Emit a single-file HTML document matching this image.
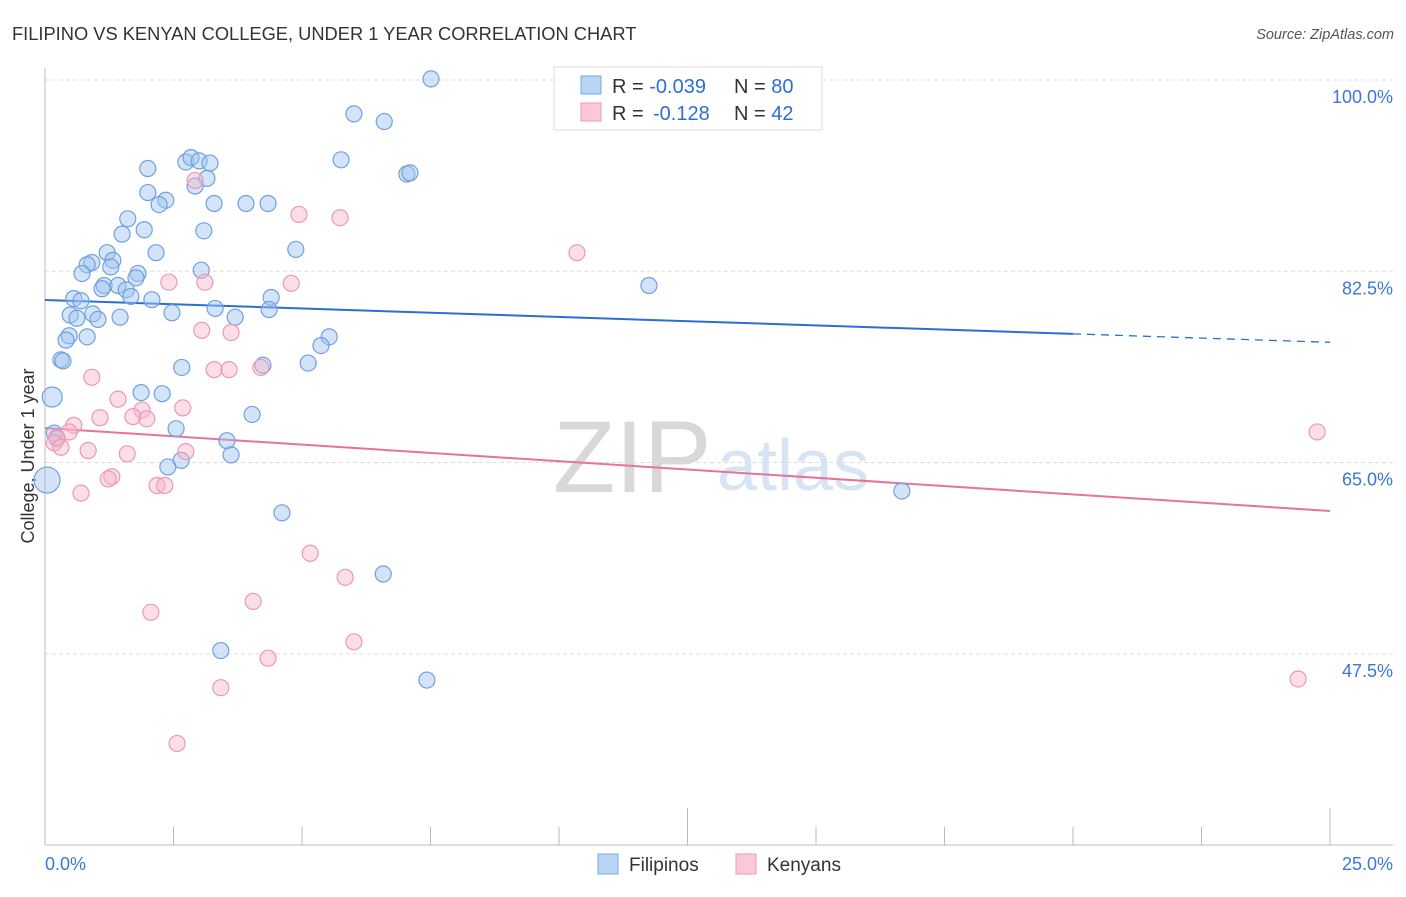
<!DOCTYPE html>
<html><head><meta charset="utf-8"><style>
body{margin:0;background:#fff;font-family:"Liberation Sans",sans-serif}
svg text{font-family:"Liberation Sans",sans-serif}
</style></head><body>
<svg id="c" width="1406" height="892">
<text x="12" y="40" font-size="18.3" fill="#333">FILIPINO VS KENYAN COLLEGE, UNDER 1 YEAR CORRELATION CHART</text>
<text x="1394" y="39" font-size="14.5" fill="#555" font-style="italic" text-anchor="end">Source: ZipAtlas.com</text>
<text x="553" y="492" font-size="102" fill="#d8d8d8" font-family="Liberation Serif">ZIP</text>
<text x="717" y="490" font-size="72" fill="#d6e4f3">atlas</text>
<text transform="translate(34,456) rotate(-90)" font-size="18" fill="#333" text-anchor="middle">College, Under 1 year</text>
<g id="grid"></g><g id="axes"></g><g id="trend"></g><g id="pts"></g>
<g>
<rect x="554" y="67" width="268" height="63" fill="#fff" stroke="#ddd"/>
<rect x="581" y="76" width="20" height="18" fill="#b8d4f5" stroke="#7aaae6"/>
<rect x="581" y="103" width="20" height="18" fill="#fbc8d8" stroke="#ee9ab5"/>
<text x="612" y="93" font-size="20" fill="#333">R = <tspan fill="#2d6fd6">-0.039</tspan><tspan x="734">N = </tspan><tspan fill="#2d6fd6">80</tspan></text>
<text x="612" y="120" font-size="20" fill="#333">R =  <tspan x="653" fill="#2d6fd6">-0.128</tspan><tspan x="734">N = </tspan><tspan fill="#2d6fd6"> 42</tspan></text>
</g>
<g>
<rect x="598" y="854" width="20" height="20" fill="#b8d4f5" stroke="#7aaae6"/>
<text x="629" y="871" font-size="19" fill="#333">Filipinos</text>
<rect x="736" y="854" width="20" height="20" fill="#fbc8d8" stroke="#ee9ab5"/>
<text x="767" y="871" font-size="19" fill="#333">Kenyans</text>
</g>
</svg>
<script>
const yTicks=[100,82.5,65,47.5];
const yTickLabels=["100.0%","82.5%","65.0%","47.5%"];
const xTickLabels=["0.0%","25.0%"];
const filX=[7.51,6.01,6.6,2,2.74,2.84,3,3.21,5.76,7.04,7.1,3.15,2.92,2,2.35,2.22,3.29,3.91,4.34,1.61,1.93,3.09,1.5,2.16,4.88,1.21,0.91,1.32,0.82,1.28,0.72,1.81,1.77,3.04,1.15,1.42,1.58,1.11,1.67,2.08,0.56,0.7,0.93,0.49,0.62,1.03,1.46,2.47,3.31,3.7,4.4,4.36,11.75,0.47,0.41,0.82,5.53,5.37,0.31,0.35,5.12,2.66,4.24,0.14,1.87,2.28,4.03,2.55,0.18,0.23,3.54,3.62,2.65,2.39,16.67,0.04,4.61,6.58,3.42,7.43];
const filY=[100.1,96.9,96.2,91.9,92.5,92.9,92.6,92.4,92.7,91.4,91.5,91.0,90.3,89.7,89.0,88.6,88.7,88.7,88.7,87.3,86.3,86.2,85.9,84.2,84.5,84.2,83.3,83.5,83.1,82.9,82.3,82.3,81.9,82.6,81.2,81.2,80.8,80.9,80.2,79.9,80.0,79.8,78.6,78.5,78.2,78.1,78.3,78.7,79.1,78.3,80.1,79.0,81.2,76.6,76.2,76.5,76.5,75.7,74.4,74.3,74.1,73.7,73.9,71.0,71.4,71.3,69.4,68.1,67.7,67.2,67.0,65.7,65.2,64.6,62.4,63.4,60.4,54.8,47.8,45.1];
const kenX=[2.92,4.94,5.74,10.35,2.41,3.11,4.79,3.05,3.62,0.91,3.29,3.58,4.2,1.42,1.89,2.68,1.71,1.98,1.07,0.56,0.47,0.23,0.18,0.31,0.84,1.6,2.74,1.3,1.23,0.7,2.18,2.33,24.75,5.16,5.84,2.06,4.05,6.01,4.34,3.42,24.38,2.57];
const kenY=[90.8,87.7,87.4,84.2,81.5,81.5,81.4,77.1,76.9,72.8,73.5,73.5,73.7,70.8,69.8,70.0,69.2,69.0,69.1,68.4,67.8,67.3,66.8,66.4,66.1,65.8,66.0,63.7,63.5,62.2,62.9,62.9,67.8,56.7,54.5,51.3,52.3,48.6,47.1,44.4,45.2,39.3];
const filTrend=[79.87,76.0];
const kenTrend=[68.16,60.57];
const X=v=>45+v*51.4, Y=v=>80+(100-v)*10.93;
const NS="http://www.w3.org/2000/svg";
function mk(tag,attrs,parent){const e=document.createElementNS(NS,tag);for(const k in attrs)e.setAttribute(k,attrs[k]);document.getElementById(parent).appendChild(e);return e;}
yTicks.forEach((t,i)=>{
 const l=mk('line',{x1:45,x2:1393,y1:Y(t),y2:Y(t),stroke:'#ddd','stroke-dasharray':'4,3'},'grid');
 
 
 const tx=mk('text',{x:1393,y:Y(t)+23,'font-size':18,fill:'#3a78d8','text-anchor':'end'},'grid');
 tx.textContent=yTickLabels[i];
 
 
});
const ax=mk('line',{x1:45,x2:1393,y1:845,y2:845,stroke:'#bbb'},'axes');


const ay=mk('line',{x1:45,x2:45,y1:68,y2:845,stroke:'#bbb'},'axes');


for(let i=1;i<=10;i++){const v=i*2.5;const big=(i==5||i==10);
 const t=mk('line',{x1:X(v),x2:X(v),y1:big?808:827,y2:845,stroke:'#bbb'},'axes');
 
 }
[[0,'start',45],[25,'end',1393]].forEach((a,i)=>{const t=mk('text',{x:a[2],y:870,'font-size':18,fill:'#3a78d8','text-anchor':a[1]},'axes');t.textContent=xTickLabels[i];
 
 });
function trend(tr,col,name,split){
 const f=v=>tr[0]+(tr[1]-tr[0])*v/25;
 const a=mk('line',{x1:X(0),y1:Y(f(0)),x2:X(split),y2:Y(f(split)),stroke:col,'stroke-width':2},'trend');
 
 
 if(split<25){const b=mk('line',{x1:X(split),y1:Y(f(split)),x2:X(25),y2:Y(f(25)),stroke:col,'stroke-width':1.3,'stroke-dasharray':'8,6'},'trend');
 
 }
}
trend(filTrend,'#2a6fd6','filipino-trend-line',20);
trend(kenTrend,'#e8729a','kenyan-trend-line',25);
function pts(xs,ys,fill,stroke,name,big){xs.forEach((x,i)=>{
 const r=big?(x<0.1?13:(x<0.16?10:8)):8;
 const c=mk('circle',{cx:X(x),cy:Y(ys[i]),r:r,fill:fill,stroke:stroke,'stroke-width':1.2},'pts');
 
 });}
pts(filX,filY,'rgba(160,196,240,0.45)','#6fa0e0','filipino-point',true);
pts(kenX,kenY,'rgba(248,182,204,0.45)','#eb98b4','kenyan-point',false);
</script>
</body></html>
